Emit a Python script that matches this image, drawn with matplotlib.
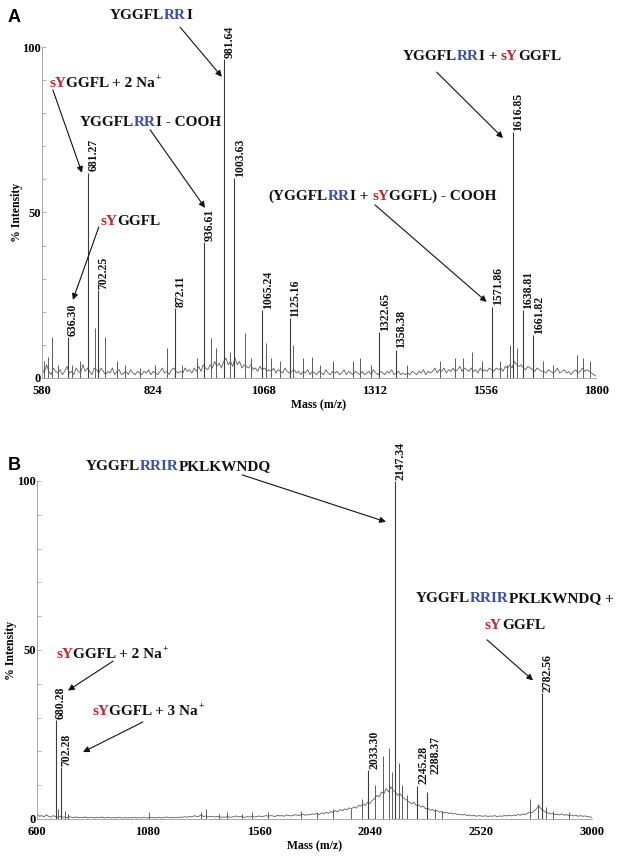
"""
MALDI spectra of the YGGFL peptide conjugates (panels A and B)
"""

import numpy as np
import matplotlib
matplotlib.use('Agg')
import matplotlib.pyplot as plt
from matplotlib.ticker import FixedLocator, MultipleLocator

# Times-like bold text everywhere, like the original figure
plt.rcParams['font.family'] = ['Liberation Serif', 'DejaVu Serif']
plt.rcParams['font.weight'] = 'bold'
plt.rcParams['font.size'] = 9

RED = '#C0272D'
BLUE = '#3D4FA5'
BLACK = '#111111'
TRACE = '#5c5c5c'
STICK = '#3c3c3c'
SPINE = '#a8a8a8'

# ---------------- panel A : m/z 580 - 1800 ----------------
xticks_a = [580, 824, 1068, 1312, 1556, 1800]

# labelled peaks
peaks_a_mz = [636.30, 681.27, 702.25, 872.11, 936.61, 981.64, 1003.63, 1065.24,
              1125.16, 1322.65, 1358.38, 1571.86, 1616.85, 1638.81, 1661.82]
peaks_a_int = [12.4, 62, 26.6, 21, 41, 96.4, 60.4, 20.5,
               18, 13.9, 8.5, 21.5, 74.3, 20.5, 13]

# unlabelled spikes
minor_a_mz = [584, 593, 602, 615, 646, 663, 696, 718, 745, 762,
              795, 828, 855, 888, 921, 953, 964, 993, 1026, 1041,
              1074, 1085, 1103, 1132, 1155, 1174, 1192, 1221, 1265, 1280,
              1305, 1383, 1456, 1489, 1507, 1527, 1548, 1588, 1604, 1610,
              1625, 1683, 1705, 1758, 1771, 1786]
minor_a_int = [5, 6.4, 12.5, 4, 4, 5, 15, 12.5, 5, 4,
               3, 4, 9, 4, 6, 12, 9, 8, 13.7, 6,
               10.6, 6, 5, 10, 6, 6.4, 4, 5, 5, 6,
               4, 4, 5, 6, 6, 8, 5, 5, 4, 10,
               9, 5, 4, 7, 6, 5]

# baseline noise, one value every 5 m/z from 580 to 1800
noise_a = [3, 1.5, 4, 2, 1, 3, 2, 1.5, 2.5, 1, 2, 3.5, 1.5, 2, 1, 3, 2, 1.5, 4, 2, 3,
           2, 1, 3, 2.5, 1.5, 3, 2, 1, 2, 1.5, 3, 1, 2, 2.5, 1, 1.5, 2, 1, 2.5, 1.5,
           1, 2, 1.5, 1, 2, 1.5, 2.5, 1, 2, 1.5, 1, 2, 3, 1.5, 2, 1, 2.5, 3, 2, 1.5,
           2, 1.5, 3, 2, 2.5, 1.5, 3, 2, 3.5, 2, 4, 3, 2.5, 4, 3, 5, 3.5, 4.5, 3, 5,
           6, 4, 5, 3.5, 6, 4, 5, 3, 4, 3.5, 3, 4, 2.5, 3, 2, 3.5, 2.5, 3, 2, 2.5,
           2, 3, 1.5, 2.5, 2, 1.5, 3, 2, 1.5, 2, 2.5, 1.5, 2, 1, 2, 1.5, 2.5, 1, 2, 1.5,
           1, 2, 1.5, 1, 2.5, 1.5, 1, 2, 1.5, 2, 1, 1.5, 2.5, 1, 2, 1.5, 1, 2, 1.5, 1,
           2, 1, 1.5, 2, 1, 2.5, 1.5, 1, 2, 1.5, 1, 2, 1.5, 2.5, 1, 1.5, 2, 1, 1.5, 1,
           1.5, 1, 2, 1.5, 1, 2, 1.5, 2.5, 1, 2, 1.5, 2, 3, 1.5, 2.5, 2, 3, 1.5, 2.5, 2,
           3, 2, 2.5, 3.5, 2, 3, 2.5, 2, 3, 2, 2.5, 1.5, 3, 2, 2.5, 2, 3, 2.5, 2, 3,
           2.5, 3, 2, 3.5, 3, 4, 3, 5, 4, 3.5, 4, 3, 2.5, 3.5, 3, 2.5, 2, 3, 2.5, 2,
           2, 1.5, 2.5, 2, 1.5, 2, 3, 1.5, 2, 2.5, 1.5, 2, 1, 2, 2.5, 1.5, 2, 3, 2, 2.5,
           2, 1.5, 1, 0.5]

# ---------------- panel B : m/z 600 - 3000 ----------------
xticks_b = [600, 1080, 1560, 2040, 2520, 3000]

peaks_b_mz = [680.28, 702.28, 2033.30, 2147.34, 2245.28, 2288.37, 2782.56]
peaks_b_int = [29.3, 15.4, 14.5, 100, 9.8, 8, 37.3]

minor_b_mz = [690, 720, 735, 1085, 1310, 1330, 1385, 1420, 1485, 1530,
              1600, 1740, 1810, 1880, 1960, 2005, 2060, 2097, 2122, 2135,
              2165, 2180, 2200, 2320, 2350, 2730, 2765, 2800, 2830, 2900]
minor_b_int = [3, 2.5, 1.5, 2, 2, 3, 1.5, 2, 1.5, 2,
               2, 2.5, 2, 3, 3, 6, 10, 18.5, 21, 14,
               16.5, 10, 7, 3, 2.5, 6, 4.5, 3.5, 2.5, 2]

# baseline noise, one value every 10 m/z from 600 to 3000
noise_b = [1.5, 0.8, 1, 0.6, 1.2, 0.8, 0.5, 1, 0.7, 0.5, 0.8, 0.5, 0.6, 0.4, 0.7, 0.5, 0.4, 0.6, 0.4, 0.5,
           0.4, 0.6, 0.3, 0.5, 0.4, 0.3, 0.5, 0.4, 0.6, 0.3, 0.4, 0.5, 0.3, 0.4, 0.3, 0.5, 0.4, 0.3, 0.4, 0.3,
           0.4, 0.3, 0.5, 0.3, 0.4, 0.3, 0.5, 0.4, 0.3, 0.5, 0.4, 0.3, 0.4, 0.5, 0.3, 0.4, 0.6, 0.4, 0.5, 0.3,
           0.5, 0.4, 0.6, 0.5, 0.7, 0.5, 0.8, 0.6, 1, 0.7, 0.8, 1.2, 0.7, 0.9, 0.6, 0.8, 0.7, 0.6, 0.8, 0.5,
           0.6, 0.5, 0.7, 0.6, 0.5, 0.7, 0.9, 0.6, 0.8, 0.6, 0.5, 0.7, 0.6, 0.8, 0.6, 0.7, 0.9, 0.7, 0.8, 1,
           0.8, 1, 0.9, 0.7, 1.1, 0.9, 1, 0.8, 1.2, 1, 0.9, 1.1, 1.3, 1, 1.2, 1.4, 1.1, 1.3, 1.2, 1.5,
           1.4, 1.6, 1.3, 1.8, 1.5, 2, 1.7, 2.2, 1.9, 2.5, 2.1, 2.8, 2.4, 3, 2.7, 3.3, 3, 3.6, 3.2, 4,
           3.8, 4.5, 4, 5, 4.6, 5.5, 6, 7, 6.5, 8, 7.5, 9, 8, 9.5, 8.5, 8, 7, 7.5, 6.5, 6,
           5.5, 5, 4.5, 5, 4, 4.2, 3.5, 3.8, 3, 3.2, 2.6, 2.8, 2.3, 2.5, 2, 2.2, 1.8, 2, 1.6, 1.8,
           1.5, 1.6, 1.3, 1.4, 1.2, 1.3, 1, 1.2, 0.9, 1.1, 0.8, 1, 0.9, 0.8, 1, 0.7, 0.9, 0.8, 1, 0.7,
           0.9, 0.8, 1, 0.9, 1.1, 0.9, 1.2, 1, 1.3, 1.1, 1.5, 1.3, 1.6, 2, 1.8, 2.5, 3, 4, 3, 2.5,
           2, 1.8, 1.5, 1.6, 1.3, 1.4, 1.2, 1.5, 1.1, 1.3, 1, 1.2, 0.9, 1.1, 0.8, 1, 0.8, 0.9, 0.7, 0.6, 0.5]


def rich_text(ax, x, y, parts, size=11):
    """Centred text built from differently coloured pieces; a piece may be a superscript"""
    fig = ax.figure
    renderer = fig.canvas.get_renderer()

    def width(s, fs):
        if not s:
            return 0.0
        t = ax.text(0, 0, s, fontsize=fs, fontweight='bold')
        w = t.get_window_extent(renderer).width
        t.remove()
        return w

    plain = ''.join(s for s, c, sup in parts if not sup)
    start = -width(plain, size) / 2
    prefix = ''
    for s, color, sup in parts:
        if sup:
            fs, dy = size * 0.62, size * 0.45
            off = width(prefix, size) + 0.5
        else:
            fs, dy = size, 0
            off = width(prefix + s, size) - width(s, size) if prefix else 0.0
            prefix += s
        ax.annotate(s, xy=(x, y), xytext=((start + off) * 72 / fig.dpi, dy),
                    textcoords='offset points', ha='left', va='baseline', color=color,
                    fontsize=fs, fontweight='bold', annotation_clip=False)


def arrow(ax, start, end):
    ax.annotate('', xy=end, xytext=start, annotation_clip=False,
                arrowprops=dict(arrowstyle='-|>', color=BLACK, lw=0.8,
                                mutation_scale=9, shrinkA=0, shrinkB=0))


def draw_spectrum(ax, xlim, xticks, noise, minor_mz, minor_int, peak_mz, peak_int, nudge=None):
    nudge = nudge or {}
    noise_mz = np.linspace(xlim[0], xlim[1], len(noise))
    ax.plot(noise_mz, noise, color=TRACE, lw=0.6, zorder=2)
    ax.vlines(minor_mz, 0, minor_int, color=TRACE, lw=0.7, zorder=2)
    ax.vlines(peak_mz, 0, peak_int, color=STICK, lw=0.8, zorder=3)

    for mz, h in zip(peak_mz, peak_int):
        dx, dy = nudge.get(mz, (0, 0))
        ax.annotate(f'{mz:.2f}', xy=(mz, h), xytext=(4 + dx, 1 + dy),
                    textcoords='offset points', rotation=90, ha='center', va='bottom',
                    fontsize=8.5, fontweight='bold', color=BLACK, annotation_clip=False)

    ax.set_xlim(*xlim)
    ax.set_ylim(0, 100)
    ax.xaxis.set_major_locator(FixedLocator(xticks))
    ax.yaxis.set_major_locator(FixedLocator([0, 50, 100]))
    ax.yaxis.set_minor_locator(MultipleLocator(10))
    ax.tick_params(axis='x', length=0, pad=5, labelsize=9)
    ax.tick_params(axis='y', which='both', direction='in', length=3, width=0.6,
                   color=SPINE, pad=1, labelsize=9)
    for side in ['top', 'right']:
        ax.spines[side].set_visible(False)
    for side in ['left', 'bottom']:
        ax.spines[side].set_color(SPINE)
        ax.spines[side].set_linewidth(0.7)

    ax.set_xlabel('Mass (m/z)', fontsize=8.5, fontweight='bold', labelpad=2)
    ax.set_ylabel('% Intensity', fontsize=8.5, fontweight='bold')


def K(s):
    return (s, BLACK, False)


def B(s):
    return (s, BLUE, False)


def R(s):
    return (s, RED, False)


SUP_PLUS = ('+', BLACK, True)

fig = plt.figure(figsize=(6.24, 8.61), dpi=100)

# ---------------- panel A ----------------
ax_a = fig.add_axes([0.0673, 0.561, 0.888, 0.3844])
draw_spectrum(ax_a, (580, 1800), xticks_a, noise_a, minor_a_mz, minor_a_int,
              peaks_a_mz, peaks_a_int)
ax_a.yaxis.set_label_coords(-0.034, 0.5)

rich_text(ax_a, 820, 108.5, [K('YGGFL'), B('RR'), K('I')])
arrow(ax_a, (884, 106), (976, 91))
rich_text(ax_a, 712, 87.9, [R('sY'), K('GGFL + 2 Na'), SUP_PLUS])
arrow(ax_a, (604, 87), (668, 62))
rich_text(ax_a, 818, 76.1, [K('YGGFL'), B('RR'), K('I - COOH')])
arrow(ax_a, (818, 75), (939, 51.4))
rich_text(ax_a, 774, 46.2, [R('sY'), K('GGFL')])
arrow(ax_a, (705, 45.6), (648, 23.6))
rich_text(ax_a, 1548, 96, [K('YGGFL'), B('RR'), K('I + '), R('sY'), K('GGFL')])
arrow(ax_a, (1449, 92.4), (1595, 72.5))
rich_text(ax_a, 1330, 53.8, [K('(YGGFL'), B('RR'), K('I + '), R('sY'), K('GGFL) - COOH')])
arrow(ax_a, (1313, 52.3), (1559, 23))

# ---------------- panel B ----------------
ax_b = fig.add_axes([0.0593, 0.0488, 0.8894, 0.3926])
draw_spectrum(ax_b, (600, 3000), xticks_b, noise_b, minor_b_mz, minor_b_int,
              peaks_b_mz, peaks_b_int, nudge={2288.37: (1.5, 12)})
ax_b.yaxis.set_label_coords(-0.036, 0.5)

rich_text(ax_b, 1210, 103.3, [K('YGGFL'), B('RRIR'), K('PKLKWNDQ')])
arrow(ax_b, (1487, 101.8), (2109, 87.9))
rich_text(ax_b, 2667, 64.2, [K('YGGFL'), B('RRIR'), K('PKLKWNDQ +')])
rich_text(ax_b, 2667, 56.2, [R('sY'), K('GGFL')])
arrow(ax_b, (2546, 53), (2745, 41))
rich_text(ax_b, 911, 47.6, [R('sY'), K('GGFL + 2 Na'), SUP_PLUS])
arrow(ax_b, (929, 46.7), (734, 38))
rich_text(ax_b, 1067, 30.8, [R('sY'), K('GGFL + 3 Na'), SUP_PLUS])
arrow(ax_b, (1058, 28.7), (799, 19.8))

# panel letters
fig.text(0.0224, 0.980, 'A', fontsize=13, fontweight='bold', family='Liberation Sans',
         ha='center', va='center')
fig.text(0.0224, 0.4588, 'B', fontsize=13, fontweight='bold', family='Liberation Sans',
         ha='center', va='center')

fig.savefig('out.png', dpi=100, facecolor='white')
